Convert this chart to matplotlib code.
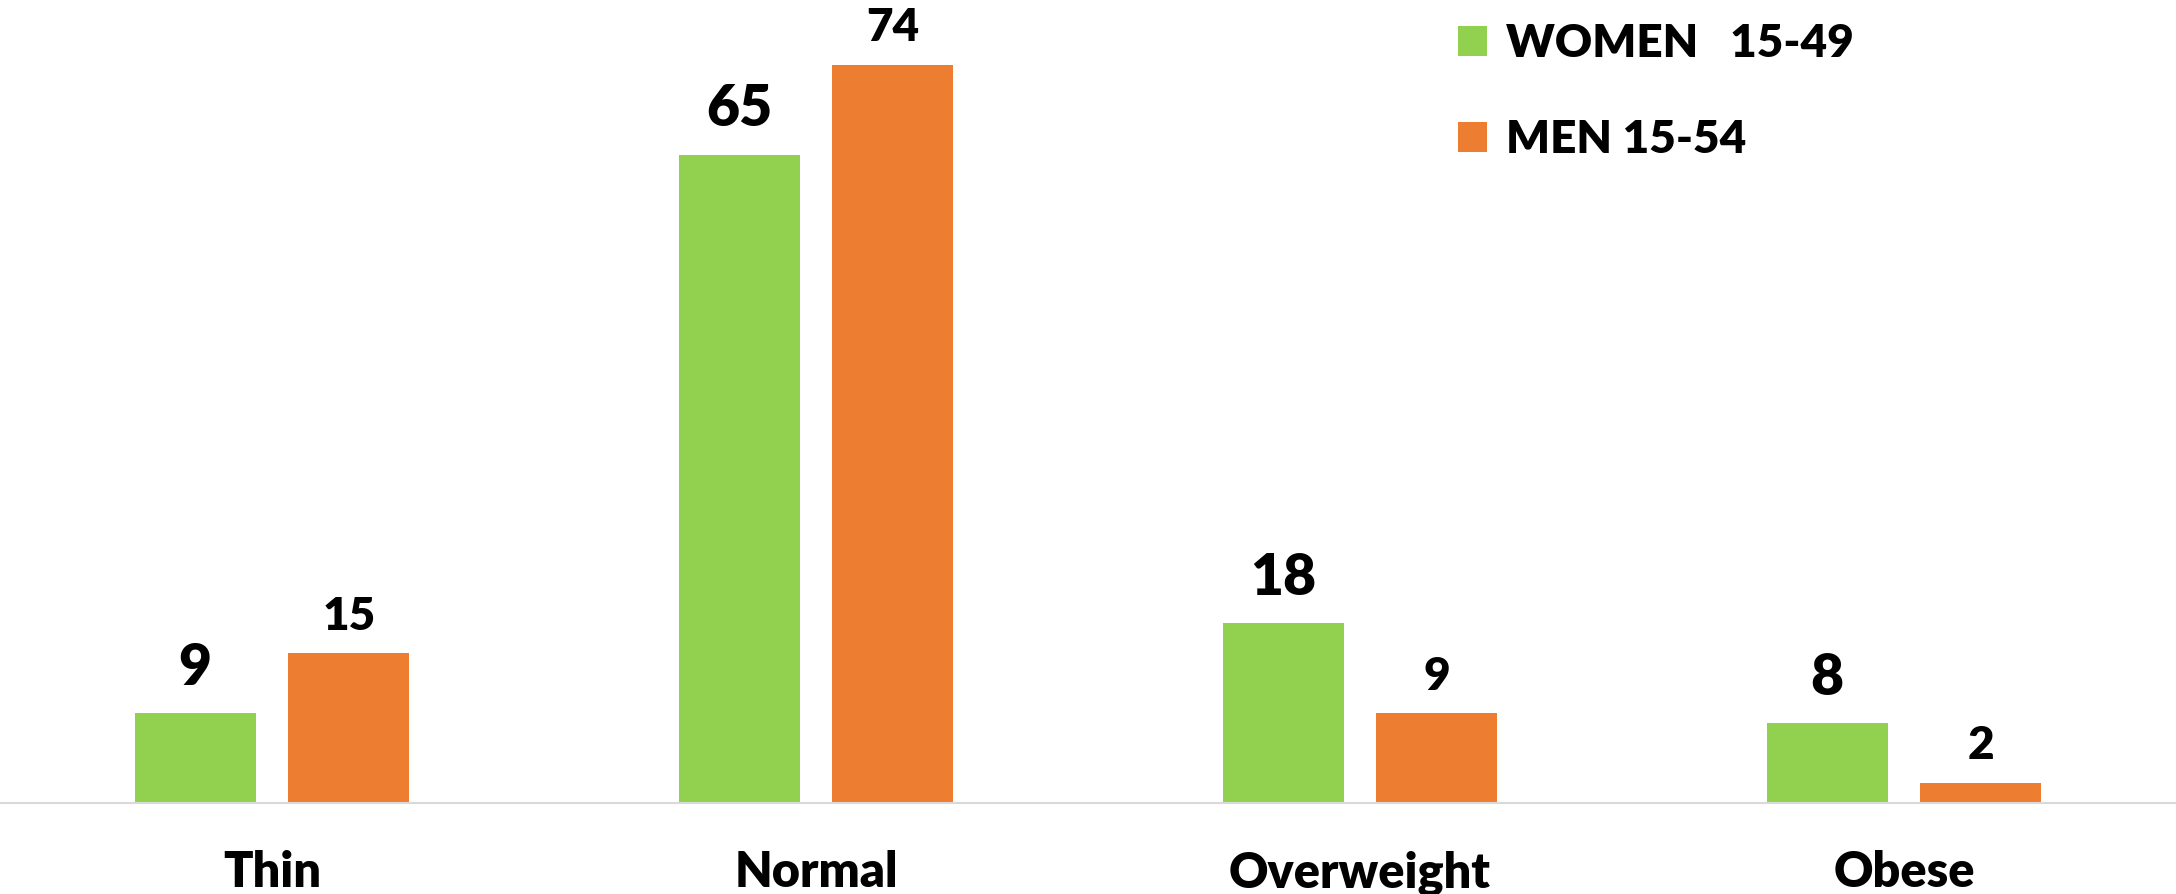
import numpy as np
import matplotlib.pyplot as plt

GREEN = '#92D050'
ORANGE = '#ED7D31'
AXIS_GREY = '#D9D9D9'

categories = ['Thin', 'Normal', 'Overweight', 'Obese']
women = [9, 65, 18, 8]
men = [15, 74, 9, 2]
series_names = ['WOMEN   15-49', 'MEN 15-54']

plt.rcParams['font.family'] = ['Lato', 'DejaVu Sans']
WEIGHT = 'heavy'

fig = plt.figure(figsize=(21.76, 8.94), dpi=100)
ax = fig.add_axes([0, 0.1018, 1, 0.8982])

x = np.arange(len(categories))
width = 0.2225
offset = 0.1415
bars_w = ax.bar(x - offset, women, width, color=GREEN, label=series_names[0])
bars_m = ax.bar(x + offset, men, width, color=ORANGE, label=series_names[1])

ax.bar_label(bars_w, padding=14, fontsize=41, fontweight=WEIGHT)
ax.bar_label(bars_m, padding=12, fontsize=33, fontweight=WEIGHT)

ax.set_xlim(-0.5, 3.5)
ax.set_ylim(0, 80.5)
ax.set_xticks(x)
ax.set_xticklabels(categories, fontsize=35, fontweight=WEIGHT)
ax.tick_params(axis='x', length=0, pad=34)
ax.set_yticks([])

for side in ['top', 'right', 'left']:
    ax.spines[side].set_visible(False)
ax.spines['bottom'].set_color(AXIS_GREY)
ax.spines['bottom'].set_linewidth(1.5)

leg = ax.legend(loc='upper left', bbox_to_anchor=(1430 / 2176, 1.005),
                bbox_transform=fig.transFigure, frameon=False,
                prop={'size': 33, 'weight': WEIGHT},
                handlelength=0.65, handleheight=0.65, handletextpad=0.4,
                labelspacing=1.2, borderaxespad=0.2)

fig.savefig('out.png', dpi=100)
